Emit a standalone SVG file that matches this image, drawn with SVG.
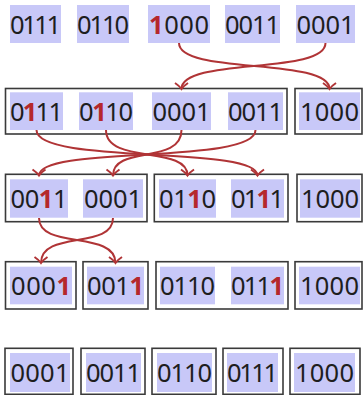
<svg xmlns="http://www.w3.org/2000/svg" width="363" height="395" viewBox="0 0 363 395">
<style>
.hl{fill:#c8c8f8}
.box{fill:none;stroke:#3a3a3a;stroke-width:1.6}
.t{font-family:"Noto Sans","Open Sans",sans-serif;font-size:25.5px;fill:#1e1e1e;text-anchor:middle}
.r{fill:#b5282c;font-weight:bold}
.c{fill:none;stroke:#b03436;stroke-width:2;marker-end:url(#ah)}
</style>
<defs>
<marker id="ah" markerUnits="userSpaceOnUse" markerWidth="16" markerHeight="16" viewBox="-8 -8 16 16" refX="0" refY="0" orient="auto" overflow="visible">
<path d="M-6,-6.5 Q-3,-2 0,0 Q-3,2 -6,6.5" fill="none" stroke="#b03436" stroke-width="2"/>
</marker>
</defs>
<rect width="363" height="395" fill="#fff"/>

<g id="row1">
<g id="r1n1"><rect class="hl" x="10" y="5" width="51" height="38"/><text class="t" x="35.5" y="34" textLength="51" lengthAdjust="spacing">0111</text></g>
<g id="r1n2"><rect class="hl" x="77" y="5" width="52" height="38"/><text class="t" x="103" y="34" textLength="52" lengthAdjust="spacing">0110</text></g>
<g id="r1n3"><rect class="hl" x="148" y="5" width="62" height="38"/><text class="t" x="179" y="34" textLength="60" lengthAdjust="spacing"><tspan class="r">1</tspan>000</text></g>
<g id="r1n4"><rect class="hl" x="225" y="5" width="55" height="38"/><text class="t" x="252.5" y="34" textLength="55" lengthAdjust="spacing">0011</text></g>
<g id="r1n5"><rect class="hl" x="296" y="5" width="59" height="38"/><text class="t" x="325.5" y="34" textLength="58" lengthAdjust="spacing">0001</text></g>
</g>

<g id="row2">
<g id="r2b1"><rect class="box" x="5.5" y="88.5" width="281.5" height="45.5"/>
<rect class="hl" x="10" y="92.3" width="53" height="37.7"/><text class="t" x="36.5" y="121" textLength="53" lengthAdjust="spacing">0<tspan class="r">1</tspan>11</text>
<rect class="hl" x="79" y="92.3" width="54" height="37.7"/><text class="t" x="106" y="121" textLength="54" lengthAdjust="spacing">0<tspan class="r">1</tspan>10</text>
<rect class="hl" x="152" y="92.3" width="59" height="37.7"/><text class="t" x="181.5" y="121" textLength="58" lengthAdjust="spacing">0001</text>
<rect class="hl" x="228" y="92.3" width="55" height="37.7"/><text class="t" x="255.5" y="121" textLength="55" lengthAdjust="spacing">0011</text>
</g>
<g id="r2b2"><rect class="box" x="295" y="88.5" width="67" height="45.5"/>
<rect class="hl" x="299" y="92.3" width="61" height="37.7"/><text class="t" x="329.5" y="121" textLength="59" lengthAdjust="spacing">1000</text>
</g>
</g>

<g id="row3">
<g id="r3b1"><rect class="box" x="5.5" y="174.3" width="141.5" height="47.4"/>
<rect class="hl" x="10" y="179.3" width="58" height="38.4"/><text class="t" x="39" y="208" textLength="57" lengthAdjust="spacing">00<tspan class="r">1</tspan>1</text>
<rect class="hl" x="83" y="179.3" width="60" height="38.4"/><text class="t" x="113" y="208" textLength="58" lengthAdjust="spacing">0001</text>
</g>
<g id="r3b2"><rect class="box" x="154.3" y="174.3" width="133.7" height="47.4"/>
<rect class="hl" x="159" y="179.3" width="57" height="38.4"/><text class="t" x="187.5" y="208" textLength="57" lengthAdjust="spacing">01<tspan class="r">1</tspan>0</text>
<rect class="hl" x="231" y="179.3" width="53" height="38.4"/><text class="t" x="257.5" y="208" textLength="53" lengthAdjust="spacing">01<tspan class="r">1</tspan>1</text>
</g>
<g id="r3b3"><rect class="box" x="297" y="174.3" width="65" height="47.4"/>
<rect class="hl" x="300" y="179.3" width="60" height="38.4"/><text class="t" x="330" y="208" textLength="58" lengthAdjust="spacing">1000</text>
</g>
</g>

<g id="row4">
<g id="r4b1"><rect class="box" x="5.5" y="261.7" width="70.5" height="47.3"/>
<rect class="hl" x="10" y="266.7" width="62" height="37.6"/><text class="t" x="41" y="295" textLength="60" lengthAdjust="spacing">000<tspan class="r">1</tspan></text>
</g>
<g id="r4b2"><rect class="box" x="83" y="261.7" width="65" height="47.3"/>
<rect class="hl" x="87" y="266.7" width="57" height="37.6"/><text class="t" x="115.5" y="295" textLength="57" lengthAdjust="spacing">001<tspan class="r">1</tspan></text>
</g>
<g id="r4b3"><rect class="box" x="156" y="261.7" width="132" height="47.3"/>
<rect class="hl" x="160" y="266.7" width="55" height="37.6"/><text class="t" x="187.5" y="295" textLength="55" lengthAdjust="spacing">0110</text>
<rect class="hl" x="231" y="266.7" width="53" height="37.6"/><text class="t" x="257.5" y="295" textLength="53" lengthAdjust="spacing">011<tspan class="r">1</tspan></text>
</g>
<g id="r4b4"><rect class="box" x="295" y="261.7" width="67" height="47.3"/>
<rect class="hl" x="299" y="266.7" width="61" height="37.6"/><text class="t" x="329.5" y="295" textLength="59" lengthAdjust="spacing">1000</text>
</g>
</g>

<g id="row5">
<g id="r5b1"><rect class="box" x="5" y="348.3" width="68" height="46"/>
<rect class="hl" x="10" y="353" width="60" height="39"/><text class="t" x="40" y="382" textLength="59" lengthAdjust="spacing">0001</text></g>
<g id="r5b2"><rect class="box" x="81" y="348.3" width="64" height="46"/>
<rect class="hl" x="86" y="353" width="55" height="39"/><text class="t" x="113.5" y="382" textLength="55" lengthAdjust="spacing">0011</text></g>
<g id="r5b3"><rect class="box" x="152" y="348.3" width="64" height="46"/>
<rect class="hl" x="157" y="353" width="55" height="39"/><text class="t" x="184.5" y="382" textLength="55" lengthAdjust="spacing">0110</text></g>
<g id="r5b4"><rect class="box" x="223" y="348.3" width="60" height="46"/>
<rect class="hl" x="227" y="353" width="51" height="39"/><text class="t" x="252.5" y="382" textLength="51" lengthAdjust="spacing">0111</text></g>
<g id="r5b5"><rect class="box" x="290" y="348.3" width="70" height="46"/>
<rect class="hl" x="294" y="353" width="61" height="39"/><text class="t" x="324.5" y="382" textLength="59" lengthAdjust="spacing">1000</text></g>
</g>

<g id="connectors">
<path class="c" d="M179,43 C179,75 329.5,57 329.5,89"/>
<path class="c" d="M325.5,43 C325.5,75 181.5,57 181.5,89"/>
<path class="c" d="M36.5,130 C36.5,165 257.5,145 257.5,175.5"/>
<path class="c" d="M106,130 C106,165 187.5,145 187.5,175.5"/>
<path class="c" d="M181.5,130 C181.5,165 113,145 113,175.5"/>
<path class="c" d="M255.5,130 C255.5,165 39,145 39,175.5"/>
<path class="c" d="M39,218 C39,250 115.5,230 115.5,263"/>
<path class="c" d="M113,218 C113,250 41,230 41,263"/>
</g>
</svg>
